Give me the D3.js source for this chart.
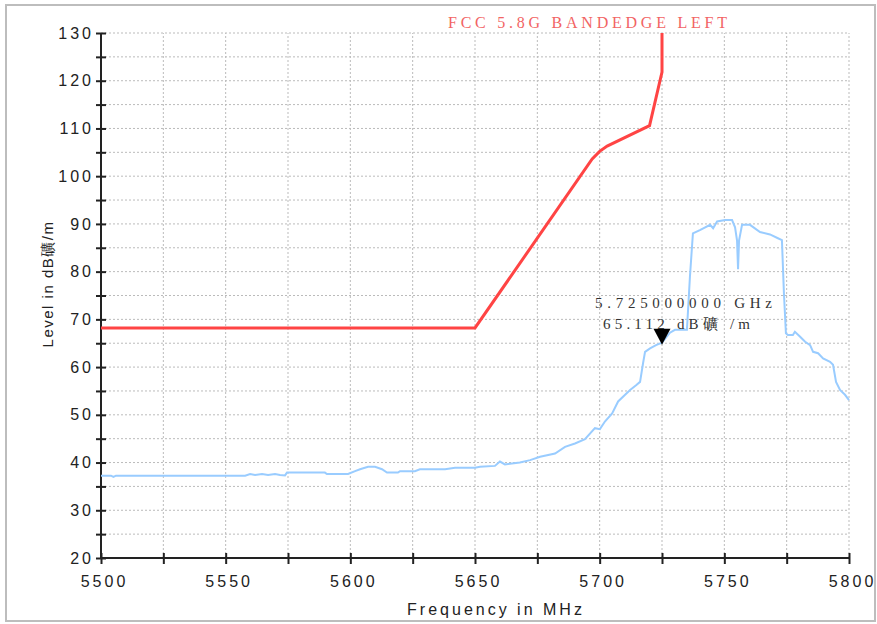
<!DOCTYPE html>
<html>
<head>
<meta charset="utf-8">
<script src="https://cdn.jsdelivr.net/npm/d3@7"></script>
<style>
  body { margin: 0; background: #fff; }
  .tick text { font-family: "Liberation Sans", Arial, sans-serif; font-size: 16px; letter-spacing: 3px; fill: #222; }
  .axis path, .axis line { stroke: #222; stroke-width: 2px; }
</style>
</head>
<body>
<svg id="chart"></svg>
<script>
// Chart size
const width = 877;
const height = 624;

// Limit line (FCC mask), MHz / dBuV/m
const limitFreq = [5500, 5650, 5697, 5700, 5703, 5720, 5725, 5725];
const limitLevel = [68.2, 68.2, 103.6, 105.2, 106.3, 110.6, 121.8, 130];

const traceFreq = [
  5500.0, 5504.0, 5505.0, 5506.0, 5557.8, 5559.8, 5561.8, 5564.6, 5567.0, 5569.8,
  5571.8, 5573.8, 5574.6, 5589.8, 5590.6, 5599.1, 5601.9, 5603.9, 5607.1, 5609.9,
  5612.7, 5614.7, 5619.1, 5619.9, 5625.9, 5627.9, 5638.0, 5642.0, 5650.0, 5652.0,
  5658.0, 5660.0, 5662.0, 5668.0, 5672.1, 5676.1, 5682.1, 5686.1, 5690.1, 5694.1,
  5698.1, 5700.1, 5702.1, 5705.0, 5707.4, 5710.2, 5712.2, 5714.6, 5716.2, 5717.4,
  5718.2, 5720.2, 5722.6, 5725.0, 5728.2, 5730.2, 5733.4, 5735.0, 5736.2, 5737.4,
  5740.2, 5744.3, 5745.5, 5747.1, 5750.3, 5753.1, 5754.3, 5755.1, 5755.5, 5755.9,
  5757.1, 5760.3, 5764.3, 5768.3, 5771.5, 5773.1, 5773.9, 5774.7, 5775.5, 5777.5,
  5778.3, 5780.3, 5782.4, 5784.4, 5785.6, 5787.6, 5789.6, 5792.4, 5793.6, 5794.8,
  5796.4, 5798.4, 5800.0
];
const traceLevel = [
  37.25, 37.25, 37.0, 37.25, 37.25, 37.6, 37.4, 37.6, 37.4, 37.6,
  37.4, 37.3, 37.9, 37.9, 37.6, 37.6, 38.2, 38.6, 39.1, 39.1,
  38.6, 37.9, 37.9, 38.2, 38.2, 38.6, 38.6, 38.9, 38.9, 39.1,
  39.3, 40.2, 39.6, 40.0, 40.5, 41.2, 41.9, 43.3, 44.0, 44.9,
  47.2, 47.0, 48.6, 50.3, 52.8, 54.2, 55.2, 56.2, 56.9, 60.8,
  63.2, 63.9, 64.6, 65.1, 67.2, 67.8, 67.8, 67.8, 78.9, 88.0,
  88.7, 89.8, 89.1, 90.5, 90.8, 90.8, 89.3, 86.5, 80.5, 86.5,
  89.8, 89.8, 88.3, 87.8, 87.0, 86.6, 75.5, 67.1, 66.7, 66.7,
  67.4, 66.4, 65.3, 64.6, 63.2, 62.9, 61.8, 61.1, 60.5, 56.9,
  55.2, 54.2, 53.1
];

// Marker
const markerFreq = 5725;
const markerLevel = 65.112;
const markerLabels = ["5.725000000 GHz", "65.112 dB礦 /m"];

const title = "FCC 5.8G BANDEDGE LEFT";
const xTitle = "Frequency in MHz";
const yTitle = "Level in dB礦/m";

const xTicks = d3.range(5500, 5801, 25);
const yTicks = d3.range(20, 131, 5);

const svg = d3.select("#chart")
  .attr("width", width)
  .attr("height", height);

// Outer frame
svg.append("rect")
  .attr("x", 6).attr("y", 5)
  .attr("width", 869).attr("height", 616)
  .attr("fill", "none")
  .attr("stroke", "#bdbdbd")
  .attr("stroke-width", 2);

const x = d3.scaleLinear().domain([5500, 5800]).range([101, 849]);
const y = d3.scaleLinear().domain([20, 130]).range([558, 33]);

// Grid
svg.append("g")
  .selectAll("line")
  .data(xTicks.slice(1))
  .join("line")
  .attr("x1", d => x(d)).attr("x2", d => x(d))
  .attr("y1", y(20)).attr("y2", y(130))
  .attr("stroke", "#bbb")
  .attr("stroke-dasharray", "2,2");

svg.append("g")
  .selectAll("line")
  .data(yTicks.slice(1))
  .join("line")
  .attr("x1", x(5500)).attr("x2", x(5800))
  .attr("y1", d => y(d)).attr("y2", d => y(d))
  .attr("stroke", "#bbb")
  .attr("stroke-dasharray", "2,2");

// Axes
const yAxis = svg.append("g")
  .attr("class", "axis")
  .attr("transform", `translate(${x(5500)},0)`)
  .call(d3.axisLeft(y).tickValues(yTicks).tickSize(5).tickPadding(2)
    .tickFormat(d => d % 10 === 0 ? d : ""));
yAxis.selectAll(".tick line").attr("x1", 5);
yAxis.select(".domain").attr("d", `M0,${y(20)}V${y(130)}`);

const xAxis = svg.append("g")
  .attr("class", "axis")
  .attr("transform", `translate(0,${y(20)})`)
  .call(d3.axisBottom(x).tickValues(xTicks).tickSize(6).tickPadding(12)
    .tickFormat(d => d % 50 === 0 ? d : ""));
xAxis.selectAll(".tick text").attr("dx", 3);
xAxis.selectAll(".tick line").attr("y1", -5);
xAxis.select(".domain").attr("d", `M${x(5500)},0H${x(5800)}`);

// Lines
const line = d3.line()
  .x(d => x(d[0]))
  .y(d => y(d[1]));

svg.append("path")
  .datum(traceFreq.map((f, i) => [f, traceLevel[i]]))
  .attr("d", line)
  .attr("fill", "none")
  .attr("stroke", "#99ccff")
  .attr("stroke-width", 2);

svg.append("path")
  .datum(limitFreq.map((f, i) => [f, limitLevel[i]]))
  .attr("d", line)
  .attr("fill", "none")
  .attr("stroke", "#ff4444")
  .attr("stroke-width", 3);

// Marker triangle
const mx = x(markerFreq);
const my = y(markerLevel) + 2;
svg.append("path")
  .attr("d", `M${mx},${my}L${mx - 8.5},${my - 16}L${mx + 8.5},${my - 16}Z`)
  .attr("fill", "#000");

svg.append("text")
  .attr("x", 595).attr("y", 308)
  .attr("textLength", 177).attr("lengthAdjust", "spacing")
  .attr("font-family", "Liberation Serif, serif")
  .attr("font-size", 15)
  .attr("fill", "#333")
  .text(markerLabels[0]);

svg.append("text")
  .attr("x", 603).attr("y", 329)
  .attr("textLength", 147).attr("lengthAdjust", "spacing")
  .attr("font-family", "Liberation Serif, serif")
  .attr("font-size", 15)
  .attr("fill", "#333")
  .text(markerLabels[1]);

// Titles
svg.append("text")
  .attr("x", 448).attr("y", 28)
  .attr("textLength", 279).attr("lengthAdjust", "spacing")
  .attr("font-family", "Liberation Serif, serif")
  .attr("font-size", 16)
  .attr("fill", "#f26464")
  .text(title);

svg.append("text")
  .attr("x", 496).attr("y", 615)
  .attr("text-anchor", "middle")
  .attr("font-family", "Liberation Sans, Arial, sans-serif")
  .attr("font-size", 16)
  .attr("letter-spacing", "3px")
  .attr("fill", "#222")
  .text(xTitle);

svg.append("text")
  .attr("transform", `translate(53,${284}) rotate(-90)`)
  .attr("text-anchor", "middle")
  .attr("font-family", "Liberation Sans, Arial, sans-serif")
  .attr("font-size", 15)
  .attr("letter-spacing", "1.5px")
  .attr("fill", "#222")
  .text(yTitle);
</script>
</body>
</html>
